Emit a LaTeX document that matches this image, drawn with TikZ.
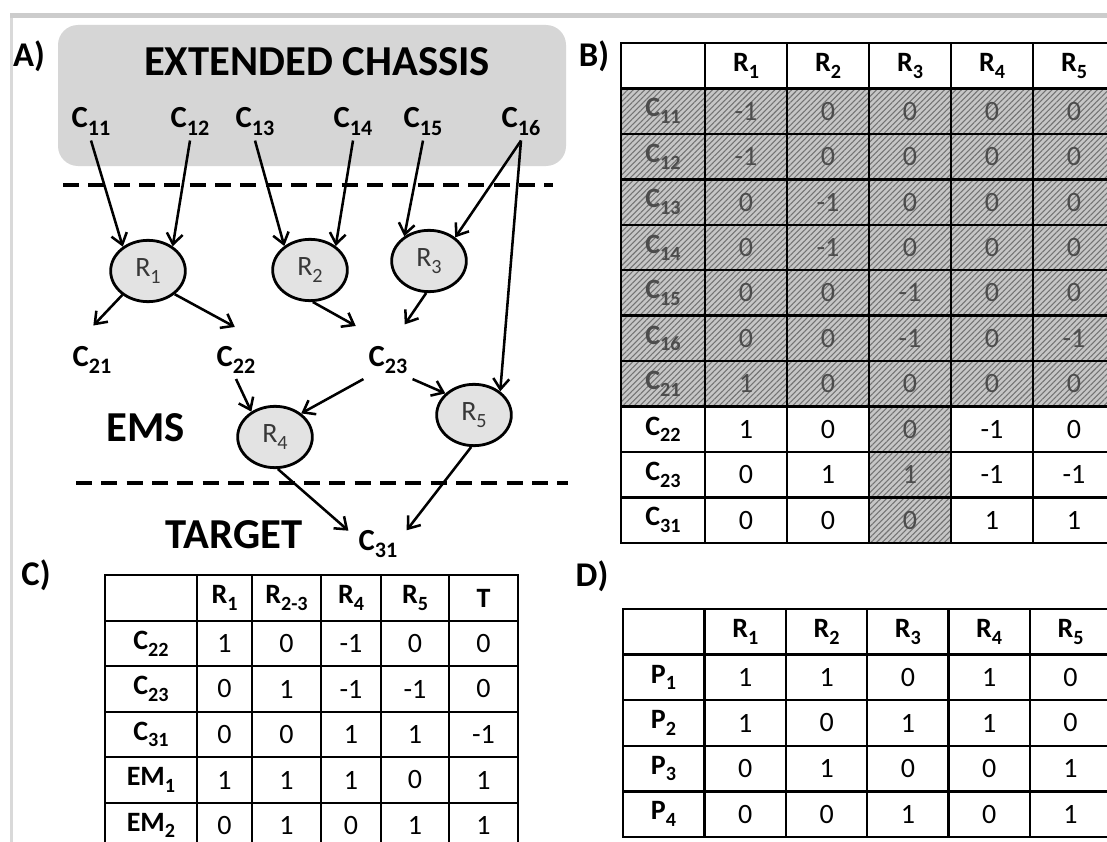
\documentclass[tikz,border=0pt]{standalone}
\usepackage{fontspec}
\setmainfont{Carlito}
\usepackage{graphicx}
\usetikzlibrary{arrows.meta, shapes.geometric, patterns.meta}

\newcommand\lowsub[1]{\raisebox{-0.24em}{\scalebox{0.72}{#1}}}
\newcommand\fsz[1]{\fontsize{#1}{#1}\selectfont}

\tikzset{
  species/.style={font=\fsz{23}\bfseries, inner sep=3.75pt},
  reaction/.style={ellipse, draw, line width=2.1pt, fill=gray!22, minimum width=56pt,
    minimum height=46pt, inner sep=0pt, font=\fsz{21}, text=black!78},
  region/.style={font=\fsz{32}\bfseries, inner sep=0pt},
  panel/.style={font=\fsz{26}\bfseries, inner sep=0pt},
  flux/.style={-{Straight Barb[length=8pt,width=12pt]}, line width=1.9pt},
  border/.style={dash pattern=on 12pt off 7pt, line width=2.4pt},
  chassis/.style={fill=gray!32, rounded corners=15pt, minimum width=381pt, minimum height=105.75pt},
  cell/.style={draw, line width=1.8pt, minimum height=34.1pt, inner sep=0pt, font=\fsz{21}},
  hcell/.style={cell, preaction={fill=gray!45}, pattern={Lines[angle=45,distance=3pt,line width=0.8pt]},
    pattern color=black!55, text=black!70},
  pcell/.style={cell, fill=white},
  head/.style={font=\fsz{21}\bfseries},
  wide/.style={minimum width=63pt},
  colw/.style={minimum width=61.5pt},
}

\begin{document}
\begin{tikzpicture}[x=0.75pt, y=-0.75pt]
\useasboundingbox (0,0) rectangle (1107,842);
\fill[white] (0,0) rectangle (1107,842);
\fill[gray!40] (10,13) rectangle (1107,18);
\fill[gray!30] (10,18) rectangle (13,842);

% A) network
\node[panel] (lblA) at (29,56) {A)};
\node[chassis] (chassis) at (312,95.5) {};
\node[region] (ext) at (317,62) {EXTENDED CHASSIS};

\node[species] (c11) at (91,121.5) {C\lowsub{11}};
\node[species] (c12) at (190,121.5) {C\lowsub{12}};
\node[species] (c13) at (255,121.5) {C\lowsub{13}};
\node[species] (c14) at (353,121.5) {C\lowsub{14}};
\node[species] (c15) at (423,121.5) {C\lowsub{15}};
\node[species] (c16) at (521,121.5) {C\lowsub{16}};

\draw[border] (63,185) -- (553,185);

\node[reaction] (r1) at (148,271) {R\lowsub{1}};
\node[reaction] (r2) at (310,270) {R\lowsub{2}};
\node[reaction] (r3) at (429,261) {R\lowsub{3}};

\node[species] (c21) at (92,360) {C\lowsub{21}};
\node[species] (c22) at (236,360) {C\lowsub{22}};
\node[species] (c23) at (388,360) {C\lowsub{23}};

\node[region] (ems) at (146,428) {EMS};
\node[reaction] (r4) at (275,437) {R\lowsub{4}};
\node[reaction] (r5) at (474,415) {R\lowsub{5}};

\draw[border] (76,483) -- (568,483);

\node[region] (target) at (234,535) {TARGET};
\node[species] (c31) at (378,544) {C\lowsub{31}};

\draw[flux] (c11.south) -- (r1.136);
\draw[flux] (c12.south) -- (r1.45);
\draw[flux] (c13.south) -- (r2.137);
\draw[flux] (c14.south) -- (r2.43);
\draw[flux] (c15.south) -- (r3.135);
\draw[flux] (c16.south) -- (r3.42);
\draw[flux] (c16.south) -- (r5.42);
\draw[flux, shorten >=16pt] (r1.223) -- (c21.125);
\draw[flux, shorten >=22pt] (r1.319) -- (c22.north east);
\draw[flux, shorten >=23pt] (r2.275) -- (c23.106);
\draw[flux, shorten >=15pt] (r3.265) -- (c23.74);
\draw[flux] (c22.south) -- (r4.133);
\draw[flux] (c23.south west) -- (r4.42);
\draw[flux] (c23.south east) -- (r5.143);
\draw[flux, shorten >=5pt] (r4.275) -- (c31.160);
\draw[flux, shorten >=5pt] (r5.265) -- (c31.19);

% B) full matrix
\node[panel] (lblB) at (594,56) {B)};
\node[pcell, wide] (b-0-0) at (663,65.7) {};
\foreach \r in {1,...,5}
  \node[pcell, colw, head] (b-0-\r) at ({664+82*\r},65.7) {R\lowsub{\r}};
\foreach \lab/\va/\vb/\vc/\vd/\ve/\st [count=\i] in {
    C\lowsub{11}/-1/0/0/0/0/hcell,
    C\lowsub{12}/-1/0/0/0/0/hcell,
    C\lowsub{13}/0/-1/0/0/0/hcell,
    C\lowsub{14}/0/-1/0/0/0/hcell,
    C\lowsub{15}/0/0/-1/0/0/hcell,
    C\lowsub{16}/0/0/-1/0/-1/hcell,
    C\lowsub{21}/1/0/0/0/0/hcell,
    C\lowsub{22}/1/0/0/-1/0/pcell,
    C\lowsub{23}/0/1/1/-1/-1/pcell,
    C\lowsub{31}/0/0/0/1/1/pcell}
{
  \pgfmathsetmacro\yy{65.7+45.45*\i}
  \node[\st, wide, head] (b-\i-0) at (663,\yy) {\lab};
  \node[\st, colw] (b-\i-1) at (746,\yy) {\va};
  \node[\st, colw] (b-\i-2) at (828,\yy) {\vb};
  \node[hcell, colw] (b-\i-3) at (910,\yy) {\vc};
  \node[\st, colw] (b-\i-4) at (992,\yy) {\vd};
  \node[\st, colw] (b-\i-5) at (1074,\yy) {\ve};
}

% C) reduced matrix
\node[panel] (lblC) at (36,575) {C)};
\node[pcell, minimum width=69pt] (c-0-0) at (151,598) {};
\node[pcell, head, minimum width=41.25pt] (c-0-1) at (224.5,598) {R\lowsub{1}};
\node[pcell, head, minimum width=51.75pt] (c-0-2) at (286.5,598) {R\lowsub{2-3}};
\node[pcell, head, minimum width=45pt] (c-0-3) at (351,598) {R\lowsub{4}};
\node[pcell, head, minimum width=51pt] (c-0-4) at (415,598) {R\lowsub{5}};
\node[pcell, head, minimum width=51.75pt] (c-0-5) at (483.5,598) {T};
\foreach \lab/\va/\vb/\vc/\vd/\ve [count=\i] in {
    C\lowsub{22}/1/0/-1/0/0,
    C\lowsub{23}/0/1/-1/-1/0,
    C\lowsub{31}/0/0/1/1/-1,
    EM\lowsub{1}/1/1/1/0/1,
    EM\lowsub{2}/0/1/0/1/1}
{
  \pgfmathsetmacro\yy{598+45.5*\i}
  \node[pcell, head, minimum width=69pt] (c-\i-0) at (151,\yy) {\lab};
  \node[pcell, minimum width=41.25pt] (c-\i-1) at (224.5,\yy) {\va};
  \node[pcell, minimum width=51.75pt] (c-\i-2) at (286.5,\yy) {\vb};
  \node[pcell, minimum width=45pt] (c-\i-3) at (351,\yy) {\vc};
  \node[pcell, minimum width=51pt] (c-\i-4) at (415,\yy) {\vd};
  \node[pcell, minimum width=51.75pt] (c-\i-5) at (483.5,\yy) {\ve};
}

% D) pathways
\node[panel] (lblD) at (592,576) {D)};
\node[pcell, minimum width=61pt] (d-0-0) at (663.5,631.8) {};
\foreach \r in {1,...,5}
  \node[pcell, head, minimum width=61pt] (d-0-\r) at ({664+81.3*\r},631.8) {R\lowsub{\r}};
\foreach \lab/\va/\vb/\vc/\vd/\ve [count=\i] in {
    P\lowsub{1}/1/1/0/1/0,
    P\lowsub{2}/1/0/1/1/0,
    P\lowsub{3}/0/1/0/0/1,
    P\lowsub{4}/0/0/1/0/1}
{
  \pgfmathsetmacro\yy{631.8+45.6*\i}
  \node[pcell, head, minimum width=61pt] (d-\i-0) at (663.5,\yy) {\lab};
  \node[pcell, minimum width=61pt] (d-\i-1) at (745.3,\yy) {\va};
  \node[pcell, minimum width=61pt] (d-\i-2) at (826.6,\yy) {\vb};
  \node[pcell, minimum width=61pt] (d-\i-3) at (907.9,\yy) {\vc};
  \node[pcell, minimum width=61pt] (d-\i-4) at (989.2,\yy) {\vd};
  \node[pcell, minimum width=61pt] (d-\i-5) at (1070.5,\yy) {\ve};
}
\end{tikzpicture}
\end{document}
